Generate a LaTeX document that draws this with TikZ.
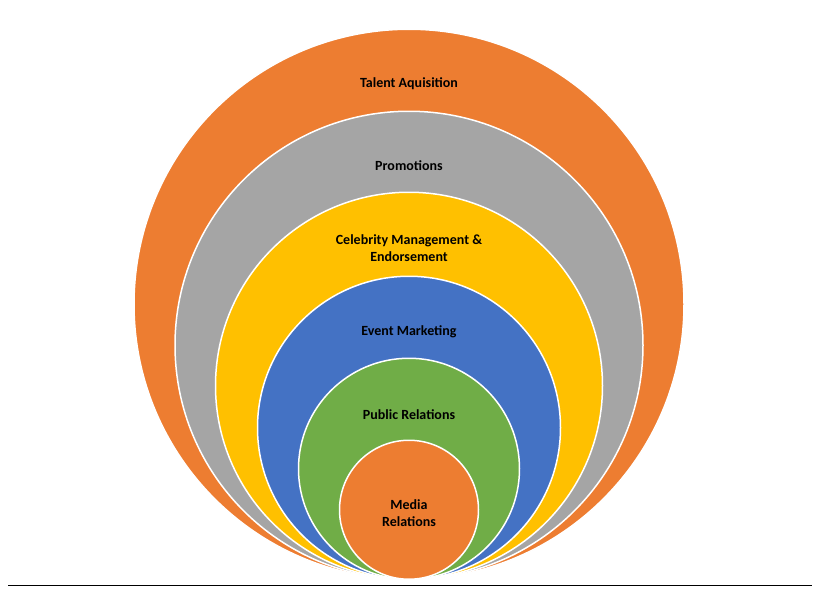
\documentclass[tikz,border=0pt]{standalone}
\usepackage{fontspec}
\setmainfont{Carlito}
\usetikzlibrary{positioning}
\definecolor{ringorange}{RGB}{237,125,49}
\definecolor{ringgray}{RGB}{165,165,165}
\definecolor{ringyellow}{RGB}{255,192,0}
\definecolor{ringblue}{RGB}{68,114,196}
\definecolor{ringgreen}{RGB}{112,173,71}
\begin{document}
\begin{tikzpicture}[x=1pt, y=1pt,
            ring/.style={circle, draw=white, line width=1.5pt, inner sep=0pt, anchor=south},
            lbl/.style={font=\fontsize{14}{17}\selectfont\bfseries, align=center, text=black}
        ]
            \useasboundingbox (0,0) rectangle (823,-592);
            \coordinate (base) at (409,-580);
            \node[ring, fill=ringorange, minimum size=550pt] (r1) at (base) {};
            \node[ring, fill=ringgray, minimum size=468pt] (r2) at (base) {};
            \node[ring, fill=ringyellow, minimum size=387pt] (r3) at (base) {};
            \node[ring, fill=ringblue, minimum size=303pt] (r4) at (base) {};
            \node[ring, fill=ringgreen, minimum size=221pt] (r5) at (base) {};
            \node[ring, fill=ringorange, minimum size=139pt] (r6) at (base) {};
            
            \node[lbl] (t1) at (409,-84) {Talent Aquisition};
            \node[lbl] (t2) at (409,-166) {Promotions};
            \node[lbl] (t3) at (409,-248) {Celebrity Management \&\\Endorsement};
            \node[lbl] (t4) at (409,-332) {Event Marketing};
            \node[lbl] (t5) at (409,-415) {Public Relations};
            \node[lbl] (t6) at (409,-513) {Media\\Relations};
            
            \coordinate (l1) at (8,-585);
            \coordinate (l2) at (812,-585);
            \draw[black, line width=0.8pt] (l1) -- (l2);
        \end{tikzpicture}
\end{document}
